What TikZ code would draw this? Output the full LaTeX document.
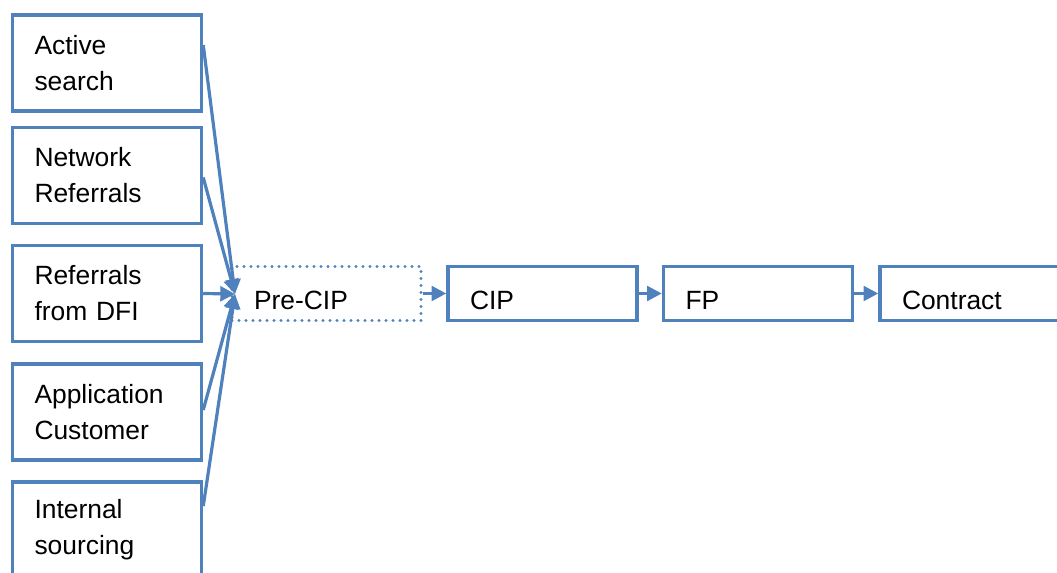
\documentclass[tikz,border=0pt]{standalone}
\usepackage{fontspec}
\setmainfont{Liberation Sans}
\usetikzlibrary{arrows.meta,calc}
\definecolor{officeblue}{HTML}{4F81BD}
\begin{document}
\begin{tikzpicture}[x=0.75pt,y=-0.75pt,
  every node/.style={font=\fontsize{19.8}{27}\selectfont, text=black},
  srcbox/.style={draw=officeblue, line width=2.6pt, minimum width=141.75pt, minimum height=72pt,
    inner xsep=16.5pt, inner ysep=0pt, text width=108.75pt, align=left},
  procbox/.style={draw=officeblue, line width=2.6pt, minimum width=141.75pt, minimum height=40.5pt,
    inner xsep=16.5pt, inner ysep=0pt, text width=108.75pt, align=left, text height=24.6pt, text depth=0pt},
  dotbox/.style={procbox, dash pattern=on 0pt off 5.25pt, line cap=round},
  flow/.style={draw=officeblue, line width=2.4pt, -{Triangle[length=11pt,width=11pt]}}
]
\useasboundingbox (0,0) rectangle (1057,573);
\node[srcbox] (a1) at (107,63) {Active\\search};
\node[srcbox] (a2) at (107,175.5) {Network\\Referrals};
\node[srcbox] (a3) at (107,293.5) {Referrals\\from DFI};
\node[srcbox] (a4) at (107,412) {Application\\Customer};
\node[srcbox] (a5) at (107,530) {Internal\\sourcing};
\node[dotbox] (pre) at (326.5,293.5) {Pre-CIP};
\node[procbox] (cip) at (542.5,293.5) {CIP};
\node[procbox] (fp) at (758,293.5) {FP};
\node[procbox] (con) at (974.5,293.5) {Contract};
\coordinate (m) at (235,294);
\draw[flow] ($(a1.north east)!0.32!(a1.south east)$) -- (m);
\draw[flow] ($(a2.north east)!0.52!(a2.south east)$) -- (m);
\draw[flow] (a3.east) -- (m);
\draw[flow] ($(a4.north east)!0.48!(a4.south east)$) -- (m);
\draw[flow] ($(a5.north east)!0.26!(a5.south east)$) -- (m);
\draw[flow] (pre.east) -- (cip.west);
\draw[flow] (cip.east) -- (fp.west);
\draw[flow] (fp.east) -- (con.west);
\end{tikzpicture}
\end{document}
